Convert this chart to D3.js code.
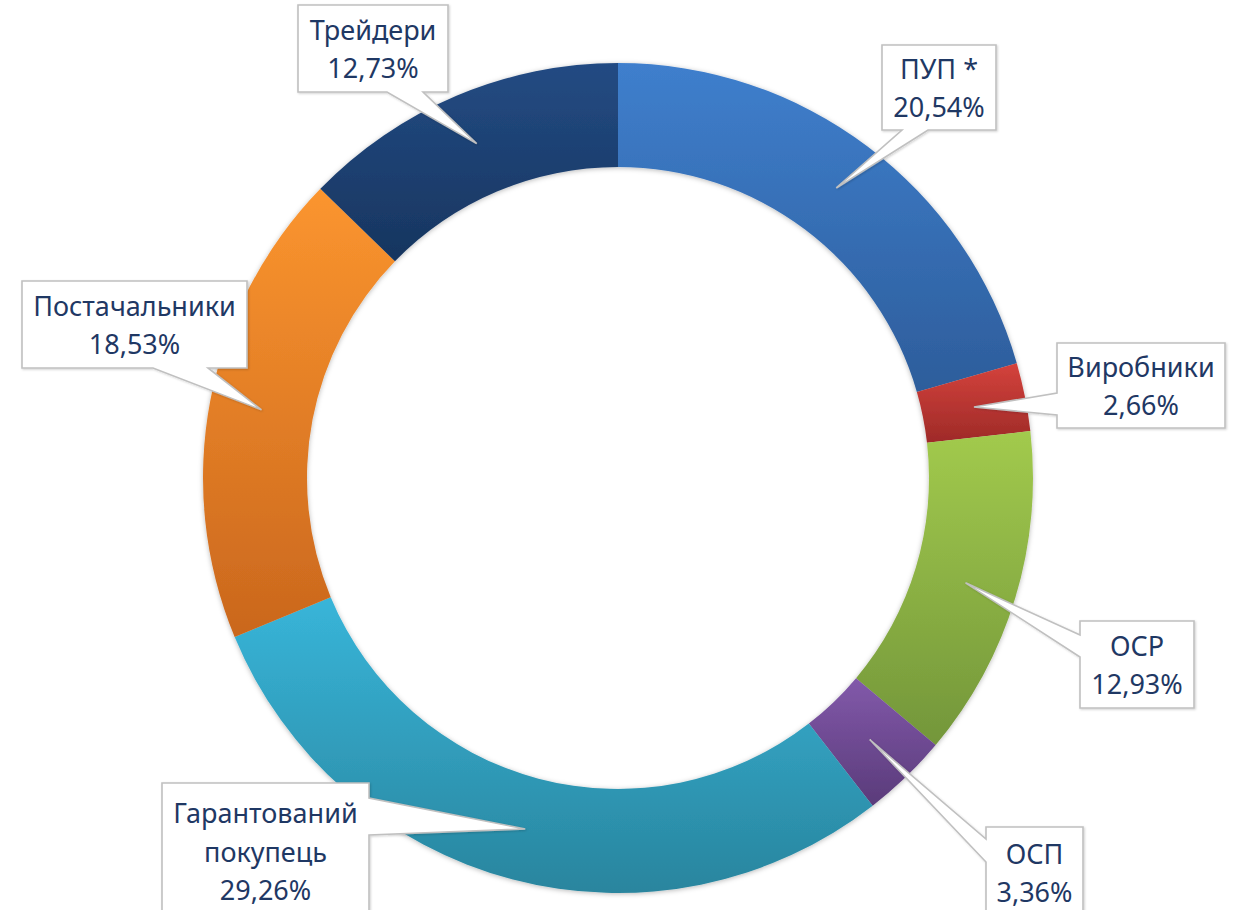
<!DOCTYPE html>
<html><head><meta charset="utf-8">
<script src="https://cdn.jsdelivr.net/npm/d3@7"></script>
<style>html,body{margin:0;padding:0;background:#fff;}svg{display:block;}</style>
</head><body>
<svg id="c" width="1236" height="910"></svg>
<script>
// ---- data ----
const categories = ["ПУП *", "Виробники", "ОСР", "ОСП", "Гарантований покупець", "Постачальники", "Трейдери"];
const labelLines = [["ПУП *"], ["Виробники"], ["ОСР"], ["ОСП"], ["Гарантований", "покупець"], ["Постачальники"], ["Трейдери"]];
const shares = [20.54, 2.66, 12.93, 3.36, 29.26, 18.53, 12.73];
const shareLabels = ["20,54%", "2,66%", "12,93%", "3,36%", "29,26%", "18,53%", "12,73%"];

// ---- styles ----
const colorTop = ["#3f7fcd", "#d4423c", "#a2ca4d", "#8259aa", "#38b5d9", "#fb952f", "#234b83"];
const colorBottom = ["#2d5d9b", "#9e2a28", "#73963a", "#5a3b7a", "#29859e", "#ca671d", "#17355f"];

// ---- layout for callouts: box [x, y, w, h], pointer side, base from/to ----
const boxes = [
  [882, 45, 114, 85, "bottom", 902, 928],
  [1057, 343, 168, 85, "left", 393, 415],
  [1080, 621, 114, 87, "left", 635, 657],
  [986, 827, 97, 91, "left", 839, 862],
  [162, 783, 207, 136, "right", 798, 835],
  [22, 281, 225, 87, "bottom", 153, 208],
  [298, 5, 150, 87, "bottom", 387, 423]
];

const cx = 618, cy = 478, R = 415, r0 = 311;
const svg = d3.select("#c");
const defs = svg.append("defs");

const shadow = defs.append("filter").attr("id", "sh").attr("x", "-10%").attr("y", "-10%").attr("width", "120%").attr("height", "120%");
shadow.append("feDropShadow").attr("dx", 0).attr("dy", 1).attr("stdDeviation", 2.5).attr("flood-color", "#000").attr("flood-opacity", 0.28);
const shadow2 = defs.append("filter").attr("id", "sh2").attr("x", "-10%").attr("y", "-10%").attr("width", "120%").attr("height", "120%");
shadow2.append("feDropShadow").attr("dx", 1).attr("dy", 1).attr("stdDeviation", 1.2).attr("flood-color", "#000").attr("flood-opacity", 0.18);

categories.forEach((c, i) => {
  const g = defs.append("linearGradient").attr("id", "g" + i).attr("x1", 0).attr("y1", 0).attr("x2", 0).attr("y2", 1);
  g.append("stop").attr("offset", "0%").attr("stop-color", colorTop[i]);
  g.append("stop").attr("offset", "100%").attr("stop-color", colorBottom[i]);
});

const pie = d3.pie().sort(null).value(d => d)(shares);
const arc = d3.arc().innerRadius(r0).outerRadius(R);

const ring = svg.append("g").attr("transform", `translate(${cx},${cy})`).attr("filter", "url(#sh)");
ring.selectAll("path").data(pie).join("path")
  .attr("d", arc)
  .attr("fill", (d, i) => `url(#g${i})`);

// callouts
const labels = svg.append("g");
pie.forEach((d, i) => {
  const a = (d.startAngle + d.endAngle) / 2;
  const rm = (R + r0) / 2;
  const tip = [cx + rm * Math.sin(a), cy - rm * Math.cos(a)];
  const [x, y, w, h, side, b1, b2] = boxes[i];
  let pts;
  if (side === "bottom") {
    pts = [[x, y], [x + w, y], [x + w, y + h], [b2, y + h], tip, [b1, y + h], [x, y + h]];
  } else if (side === "left") {
    pts = [[x, y], [x + w, y], [x + w, y + h], [x, y + h], [x, b2], tip, [x, b1]];
  } else if (side === "right") {
    pts = [[x, y], [x + w, y], [x + w, b1], tip, [x + w, b2], [x + w, y + h], [x, y + h]];
  } else {
    pts = [[x, y], [b1, y], tip, [b2, y], [x + w, y], [x + w, y + h], [x, y + h]];
  }
  labels.append("path")
    .attr("d", d3.line()(pts) + "Z")
    .attr("fill", "#fff")
    .attr("stroke", "#c0c0c0")
    .attr("stroke-width", 1.6)
    .attr("stroke-linejoin", "miter")
    .attr("filter", "url(#sh2)");
  const lines = labelLines[i].concat([shareLabels[i]]);
  const lh = 38.5;
  const mid = y + h / 2;
  lines.forEach((t, k) => {
    labels.append("text")
      .attr("x", x + w / 2)
      .attr("y", mid + (k - (lines.length - 1) / 2) * lh)
      .attr("text-anchor", "middle")
      .attr("dominant-baseline", "central")
      .attr("font-family", "'Noto Sans', 'Open Sans', sans-serif")
      .attr("font-size", 27)
      .attr("fill", "#1f3864")
      .text(t);
  });
});
</script>
</body></html>
